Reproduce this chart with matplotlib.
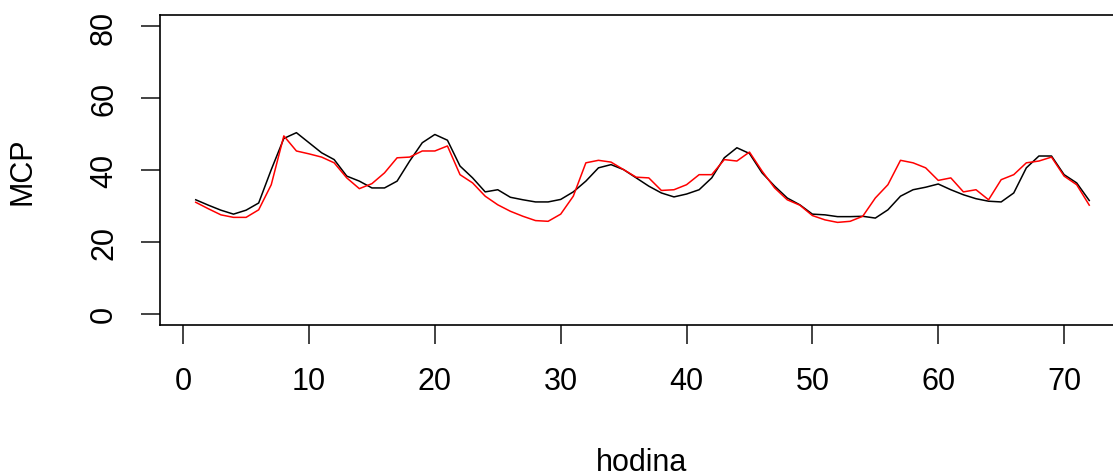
import matplotlib
matplotlib.use("Agg")
import matplotlib.pyplot as plt

# hourly values
hodina = list(range(1, 73))
mcp_black = [31.7, 30.2, 28.8, 27.7, 28.8, 30.8, 40.1, 48.8, 50.4, 47.6,
             44.8, 42.9, 38.3, 36.9, 35.0, 35.0, 36.9, 42.5, 47.6, 49.9,
             48.3, 41.1, 37.8, 33.9, 34.5, 32.4, 31.7, 31.1, 31.1, 31.8,
             33.9, 36.9, 40.6, 41.5, 40.1, 37.8, 35.5, 33.6, 32.5, 33.3,
             34.5, 37.8, 43.4, 46.2, 44.6, 39.2, 35.5, 32.2, 30.3, 27.7,
             27.5, 27.0, 27.0, 27.1, 26.6, 28.9, 32.7, 34.5, 35.2, 36.1,
             34.5, 33.1, 32.0, 31.3, 31.1, 33.6, 40.6, 43.9, 43.9, 38.7,
             36.4, 31.5]
mcp_red = [31.0, 29.2, 27.5, 26.8, 26.8, 28.9, 35.9, 49.5, 45.3, 44.5,
           43.6, 42.0, 37.8, 34.8, 36.2, 39.2, 43.4, 43.6, 45.3, 45.3,
           46.7, 38.7, 36.4, 32.7, 30.3, 28.5, 27.1, 25.9, 25.7, 27.7,
           32.7, 42.0, 42.7, 42.2, 40.1, 38.0, 37.8, 34.3, 34.5, 35.9,
           38.7, 38.7, 42.9, 42.5, 45.0, 39.7, 35.0, 31.7, 30.2, 27.3,
           26.1, 25.4, 25.7, 27.1, 32.2, 35.9, 42.7, 42.0, 40.6, 37.1,
           37.8, 33.9, 34.5, 31.7, 37.3, 38.7, 42.0, 42.5, 43.6, 38.3,
           35.9, 30.2]
xticks = [0, 10, 20, 30, 40, 50, 60, 70]
yticks = [0, 20, 40, 60, 80]

plt.rcParams['font.family'] = ['Liberation Sans', 'DejaVu Sans']

W, H = 1113, 477
fig = plt.figure(figsize=(W / 100, H / 100), dpi=100)

# plot region in pixels (right edge lies past the cropped image)
left, right, top, bottom = 160, 1125, 16, 326
ax = fig.add_axes([left / W, 1 - bottom / H, (right - left) / W, (bottom - top) / H])

ax.plot(hodina, mcp_black, color="black", linewidth=1.1)
ax.plot(hodina, mcp_red, color="#ff0000", linewidth=1.1)

# R style 4% padding
xr = max(hodina) - min(hodina)
ax.set_xlim(min(hodina) - 0.04 * xr, max(hodina) + 0.04 * xr)
ax.set_ylim(-3.2, 83.2)

ax.set_xticks(xticks)
ax.set_yticks(yticks)
ax.set_yticklabels([str(v) for v in yticks], rotation=90, va="center")

for s in ax.spines.values():
    s.set_linewidth(1.2)
ax.spines["right"].set_visible(False)
ax.tick_params(axis="both", direction="out", length=13.5, width=1.2,
               labelsize=22, color="#222222")
ax.tick_params(axis="x", pad=16)
ax.tick_params(axis="y", pad=16)

fig.text(642 / W, 1 - 471 / H, "hodina", ha="center", va="baseline", fontsize=22)
fig.text(22.5 / W, 1 - 171 / H, "MCP", ha="center", va="center",
         rotation=90, fontsize=22)

plt.savefig("out.png", dpi=100)
